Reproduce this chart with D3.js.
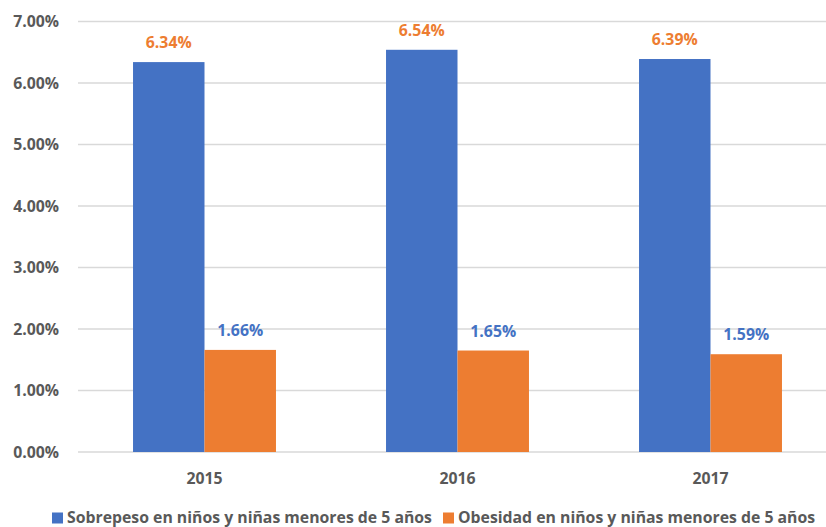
<!DOCTYPE html>
<html><head><meta charset="utf-8">
<script src="https://cdn.jsdelivr.net/npm/d3@7"></script>
<style>body{margin:0;background:#fff;} svg{display:block;}</style>
</head><body>
<svg id="c" width="826" height="527"></svg>
<script>
const categories = ["2015", "2016", "2017"];
const seriesNames = ["Sobrepeso en niños y niñas menores de 5 años", "Obesidad en niños y niñas menores de 5 años"];
const sobrepeso = [6.34, 6.54, 6.39];
const obesidad = [1.66, 1.65, 1.59];
const yTicks = [0, 1, 2, 3, 4, 5, 6, 7];
const colors = ["#4472C4", "#ED7D31"];
const labelColors = ["#ED7D31", "#4472C4"];

const svg = d3.select("#c");
const font = "'Open Sans', Lato, sans-serif";
const fs = 15.8;
const x0 = 78, x1 = 837, yTop = 21.5, yBot = 452;
const x = d3.scaleBand().domain(categories).range([x0, x1]).paddingInner(0.435).paddingOuter(0.2175);
const xs = d3.scaleBand().domain([0, 1]).range([0, x.bandwidth()]);
const y = d3.scaleLinear().domain([0, 7]).range([yBot, yTop]);

// gridlines
svg.append("g").selectAll("line").data(yTicks).join("line")
  .attr("x1", x0).attr("x2", 826)
  .attr("y1", d => y(d)).attr("y2", d => y(d))
  .attr("stroke", "#D9D9D9").attr("stroke-width", 1.3);

// y labels
const yAxis = d3.axisLeft(y).tickValues(yTicks).tickSize(0).tickPadding(0).tickFormat(d => d.toFixed(2) + "%");
const ga = svg.append("g").attr("transform", "translate(59,0)").call(yAxis);
ga.select(".domain").remove();
ga.selectAll("text").attr("font-family", font).attr("font-weight", "bold").attr("font-size", fs).attr("fill", "#595959");

const series = [sobrepeso, obesidad];
series.forEach((vals, si) => {
  const g = svg.append("g");
  g.selectAll("rect").data(categories).join("rect")
    .attr("x", d => x(d) + xs(si)).attr("width", xs.bandwidth())
    .attr("y", (d, i) => y(vals[i])).attr("height", (d, i) => yBot - y(vals[i]))
    .attr("fill", colors[si]);
  g.selectAll("text").data(categories).join("text")
    .attr("x", d => x(d) + xs(si) + xs.bandwidth() / 2)
    .attr("y", (d, i) => y(vals[i]) - 14)
    .attr("text-anchor", "middle")
    .attr("font-family", font).attr("font-weight", "bold").attr("font-size", fs)
    .attr("fill", labelColors[si])
    .text((d, i) => vals[i].toFixed(2) + "%");
});

// x labels
const xAxis = d3.axisBottom(x).tickSize(0).tickPadding(0);
const gx = svg.append("g").attr("transform", "translate(0,484)").call(xAxis);
gx.select(".domain").remove();
gx.selectAll("text").attr("font-family", font).attr("font-weight", "bold").attr("font-size", fs).attr("fill", "#595959").attr("dy", 0);

// legend
const legX = [52, 443];
const lg = svg.append("g");
seriesNames.forEach((n, i) => {
  lg.append("rect").attr("x", legX[i]).attr("y", 512.5).attr("width", 11).attr("height", 11).attr("fill", colors[i]);
  lg.append("text").attr("x", legX[i] + 15).attr("y", 523)
    .attr("font-family", font).attr("font-weight", "bold").attr("font-size", fs).attr("fill", "#595959").text(n);
});
</script>
</body></html>
